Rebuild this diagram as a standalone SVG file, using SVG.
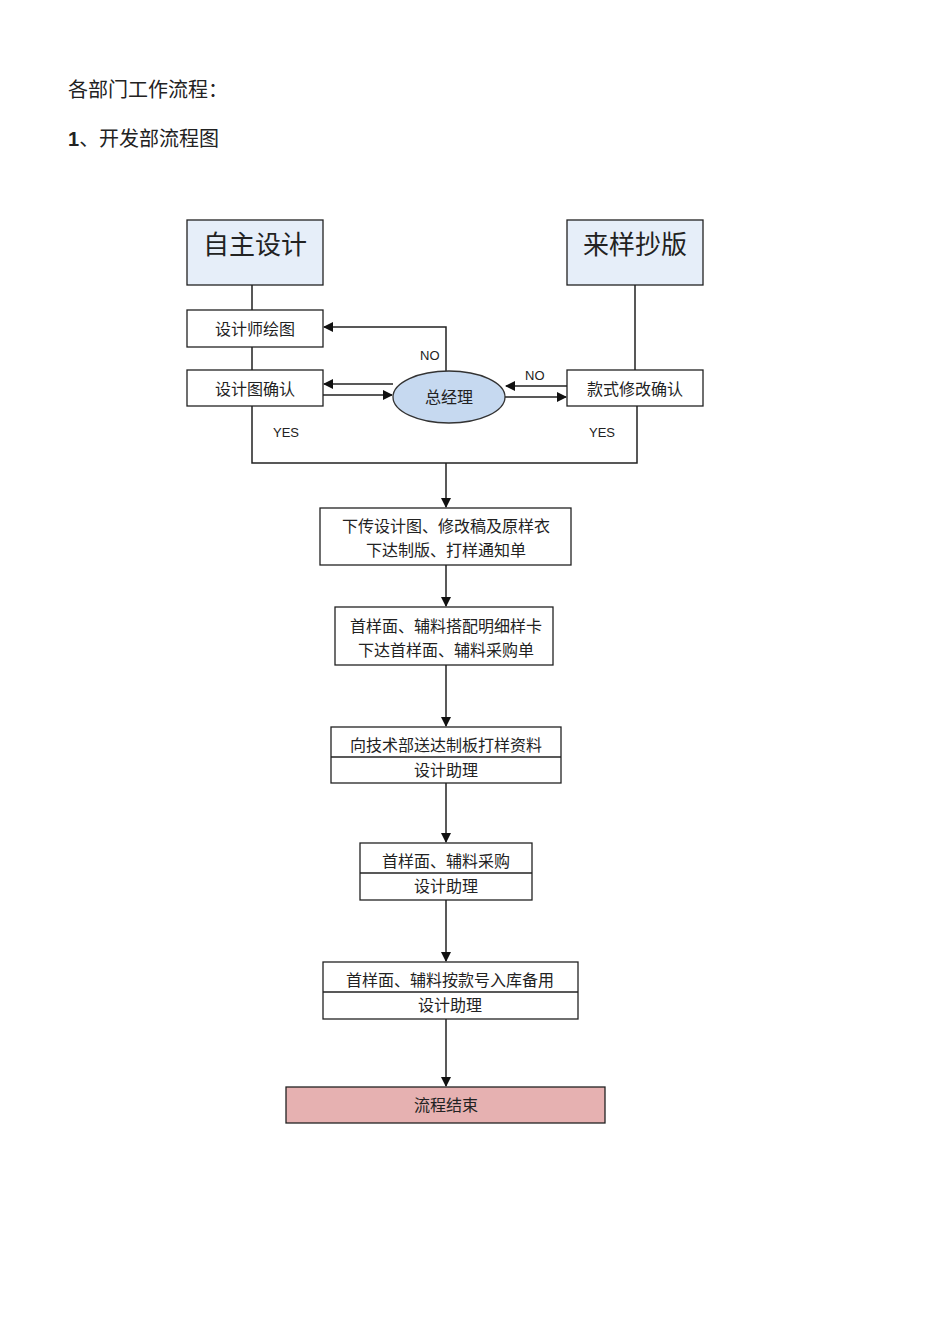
<svg xmlns="http://www.w3.org/2000/svg" width="950" height="1344" viewBox="0 0 950 1344">
<style>
text{font-family:"Liberation Serif","Noto Sans CJK SC",serif;fill:#222}
.b{fill:#fff;stroke:#222;stroke-width:1.3}
.big{font-size:26px;text-anchor:middle;font-family:"Noto Sans CJK SC",sans-serif}
.t{font-size:16px;text-anchor:middle}
.s{font-family:"Liberation Sans","Noto Sans",sans-serif;font-size:13px}
.c{fill:none;stroke:#222;stroke-width:1.5}
</style>
<defs><marker id="a" markerWidth="10" markerHeight="10" refX="9" refY="5" orient="auto" markerUnits="userSpaceOnUse"><path d="M0,0 L10,5 L0,10 z" fill="#111"/></marker></defs>
<rect width="950" height="1344" fill="#fff"/>
<text x="68" y="97" style="font-size:20px">各部门工作流程：</text>
<text x="68" y="146" style="font-size:20px"><tspan font-weight="bold" font-family="Liberation Sans,sans-serif">1</tspan>、开发部流程图</text>
<g id="connectors">
<path class="c" d="M252,285V310M252,347V370M635,285V370"/>
<path class="c" d="M446,371V327H324" marker-end="url(#a)"/>
<path class="c" d="M393,384H324" marker-end="url(#a)"/>
<path class="c" d="M323,395H392" marker-end="url(#a)"/>
<path class="c" d="M567,386H506" marker-end="url(#a)"/>
<path class="c" d="M505,397H566" marker-end="url(#a)"/>
<path class="c" d="M252,406V463H637V406"/>
<path class="c" d="M446,463V507" marker-end="url(#a)"/>
<path class="c" d="M446,565V606" marker-end="url(#a)"/>
<path class="c" d="M446,665V726" marker-end="url(#a)"/>
<path class="c" d="M446,783V842" marker-end="url(#a)"/>
<path class="c" d="M446,900V961" marker-end="url(#a)"/>
<path class="c" d="M446,1019V1086" marker-end="url(#a)"/>
<text class="s" x="420" y="360">NO</text>
<text class="s" x="525" y="380">NO</text>
<text class="s" x="273" y="437">YES</text>
<text class="s" x="589" y="437">YES</text>
</g>
<g id="n1"><rect x="187" y="220" width="136" height="65" class="b" style="fill:#e6eef9"/><text class="big" x="255" y="254">自主设计</text></g>
<g id="n2"><rect x="567" y="220" width="136" height="65" class="b" style="fill:#e6eef9"/><text class="big" x="635" y="254">来样抄版</text></g>
<g id="n3"><rect x="187" y="310" width="136" height="37" class="b"/><text class="t" x="255" y="335">设计师绘图</text></g>
<g id="n4"><rect x="187" y="370" width="136" height="36" class="b"/><text class="t" x="255" y="395">设计图确认</text></g>
<g id="n5"><rect x="567" y="370" width="136" height="36" class="b"/><text class="t" x="635" y="395">款式修改确认</text></g>
<g id="n6"><ellipse cx="449" cy="397" rx="56" ry="26" fill="#c6d9f0" stroke="#333" stroke-width="1.3"/><text class="t" x="449" y="403">总经理</text></g>
<g id="n7"><rect x="320" y="508" width="251" height="57" class="b"/><text class="t" x="446" y="532">下传设计图、修改稿及原样衣</text><text class="t" x="446" y="556">下达制版、打样通知单</text></g>
<g id="n8"><rect x="335" y="607" width="218" height="58" class="b"/><text class="t" x="446" y="632">首样面、辅料搭配明细样卡</text><text class="t" x="446" y="656">下达首样面、辅料采购单</text></g>
<g id="n9"><rect x="331" y="727" width="230" height="56" class="b"/><line x1="331" y1="757" x2="561" y2="757" stroke="#222" stroke-width="1.3"/><text class="t" x="446" y="751">向技术部送达制板打样资料</text><text class="t" x="446" y="776">设计助理</text></g>
<g id="n10"><rect x="360" y="843" width="172" height="57" class="b"/><line x1="360" y1="873" x2="532" y2="873" stroke="#222" stroke-width="1.3"/><text class="t" x="446" y="867">首样面、辅料采购</text><text class="t" x="446" y="892">设计助理</text></g>
<g id="n11"><rect x="323" y="962" width="255" height="57" class="b"/><line x1="323" y1="992" x2="578" y2="992" stroke="#222" stroke-width="1.3"/><text class="t" x="450" y="986">首样面、辅料按款号入库备用</text><text class="t" x="450" y="1011">设计助理</text></g>
<g id="n12"><rect x="286" y="1087" width="319" height="36" class="b" style="fill:#e6b1b1"/><text class="t" x="446" y="1111">流程结束</text></g>
</svg>
